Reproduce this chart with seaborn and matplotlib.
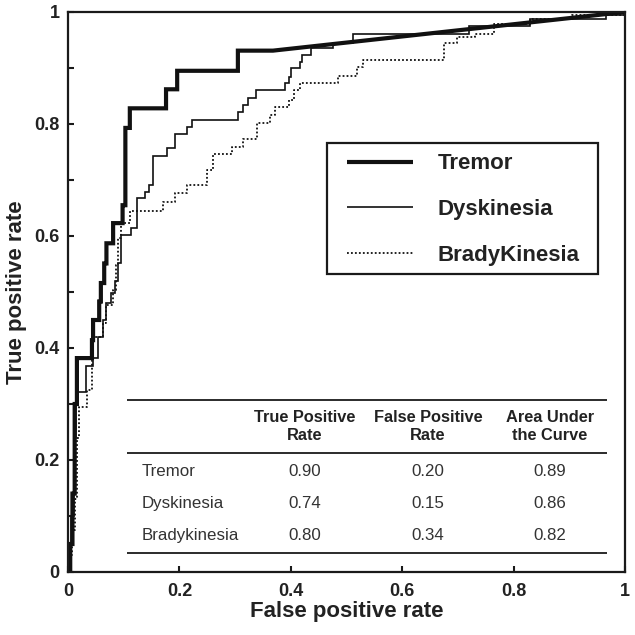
import numpy as np
import pandas as pd
import matplotlib
matplotlib.use("Agg")
import matplotlib.pyplot as plt
import seaborn as sns
from matplotlib.ticker import MultipleLocator, FuncFormatter
from matplotlib.patches import Rectangle

# ---------------- data ----------------
# step points: at each fpr the curve rises vertically to the given tpr
tremor_fpr = [0.0, 0.004, 0.008, 0.012, 0.016, 0.043, 0.045, 0.056, 0.059, 0.065,
              0.069, 0.081, 0.098, 0.103, 0.111, 0.176, 0.196, 0.305, 0.368, 1.0]
tremor_tpr = [0.0, 0.05, 0.14, 0.30, 0.382, 0.414, 0.45, 0.483, 0.516, 0.551,
              0.587, 0.623, 0.655, 0.793, 0.828, 0.862, 0.895, 0.931, 0.931, 1.0]

dysk_fpr = [0.0, 0.006, 0.010, 0.014, 0.032, 0.045, 0.054, 0.063, 0.069, 0.078,
            0.084, 0.090, 0.096, 0.114, 0.124, 0.138, 0.146, 0.153, 0.177, 0.192,
            0.214, 0.223, 0.305, 0.314, 0.324, 0.337, 0.390, 0.397, 0.400, 0.417,
            0.421, 0.436, 0.476, 0.512, 0.720, 0.830, 0.965, 1.0]
dysk_tpr = [0.0, 0.10, 0.24, 0.322, 0.367, 0.382, 0.420, 0.450, 0.480, 0.498,
            0.520, 0.551, 0.602, 0.614, 0.667, 0.679, 0.691, 0.743, 0.757, 0.782,
            0.795, 0.808, 0.822, 0.834, 0.846, 0.861, 0.873, 0.884, 0.900, 0.911,
            0.923, 0.935, 0.945, 0.960, 0.975, 0.987, 0.995, 1.0]

brady_fpr = [0.0, 0.004, 0.008, 0.012, 0.016, 0.019, 0.034, 0.043, 0.045, 0.063,
             0.069, 0.081, 0.087, 0.090, 0.096, 0.111, 0.170, 0.192, 0.213, 0.249,
             0.261, 0.294, 0.315, 0.339, 0.363, 0.372, 0.396, 0.405, 0.417, 0.485,
             0.518, 0.530, 0.675, 0.698, 0.731, 0.764, 0.830, 0.905, 1.0]
brady_tpr = [0.0, 0.03, 0.075, 0.13, 0.239, 0.295, 0.325, 0.379, 0.420, 0.444,
             0.477, 0.504, 0.548, 0.596, 0.623, 0.644, 0.661, 0.676, 0.691, 0.718,
             0.746, 0.759, 0.774, 0.802, 0.816, 0.831, 0.843, 0.861, 0.873, 0.886,
             0.902, 0.914, 0.944, 0.955, 0.960, 0.979, 0.987, 0.995, 1.0]

legend_labels = ["Tremor", "Dyskinesia", "BradyKinesia"]

table_rows = ["Tremor", "Dyskinesia", "Bradykinesia"]
table_headers = ["True Positive\nRate", "False Positive\nRate", "Area Under\nthe Curve"]
table_tpr = [0.90, 0.74, 0.80]
table_fpr = [0.20, 0.15, 0.34]
table_auc = [0.89, 0.86, 0.82]

x_ticks = [0, 0.2, 0.4, 0.6, 0.8, 1.0]
y_ticks = [0, 0.2, 0.4, 0.6, 0.8, 1.0]


def staircase(fpr, tpr, linear_tail=False):
    xs, ys = [fpr[0]], [tpr[0]]
    last = len(fpr) - 1 if linear_tail else len(fpr)
    for i in range(1, last):
        xs += [fpr[i], fpr[i]]
        ys += [tpr[i - 1], tpr[i]]
    if linear_tail:
        xs.append(fpr[-1])
        ys.append(tpr[-1])
    return xs, ys


# ---------------- style ----------------
sns.set_theme(style="white")
plt.rcParams["font.family"] = ["Liberation Sans", "DejaVu Sans"]
plt.rcParams["axes.edgecolor"] = "#1a1a1a"

fig = plt.figure(figsize=(6.35, 6.35), dpi=100)
ax = fig.add_axes([68 / 635, 1 - 572 / 635, 557 / 635, 560 / 635])

curves = [
    (staircase(brady_fpr, brady_tpr), legend_labels[2], dict(lw=1.3, ls=(0, (1, 1.2)))),
    (staircase(dysk_fpr, dysk_tpr), legend_labels[1], dict(lw=1.2, ls="-")),
    (staircase(tremor_fpr, tremor_tpr, linear_tail=True), legend_labels[0], dict(lw=3.0, ls="-")),
]
handles = {}
for (xs, ys), lab, st in curves:
    df = pd.DataFrame({"fpr": xs, "tpr": ys})
    sns.lineplot(data=df, x="fpr", y="tpr", sort=False, estimator=None, ax=ax,
                 color="#111111", linewidth=st["lw"], linestyle=st["ls"], label=lab,
                 solid_joinstyle="miter", solid_capstyle="butt")
    handles[lab] = ax.lines[-1]

ax.set_xlim(0, 1)
ax.set_ylim(0, 1)
ax.set_xticks(x_ticks)
ax.set_yticks(y_ticks)
ax.yaxis.set_minor_locator(MultipleLocator(0.1))
fmt = FuncFormatter(lambda v, p: "0" if v == 0 else ("1" if v == 1 else f"{v:.1f}"))
ax.xaxis.set_major_formatter(fmt)
ax.yaxis.set_major_formatter(fmt)
ax.tick_params(axis="both", which="both", direction="in", length=4.5, width=1.5,
               color="#1a1a1a", labelsize=13, labelcolor="#222222")
ax.tick_params(axis="x", which="both", top=False, bottom=True, pad=8)
ax.tick_params(axis="y", which="both", left=True, right=False, pad=6)
for lab in ax.get_xticklabels() + ax.get_yticklabels():
    lab.set_fontweight("bold")
for sp in ax.spines.values():
    sp.set_linewidth(1.6)
    sp.set_visible(True)

ax.set_xlabel("False positive rate", fontsize=16, fontweight="bold", color="#222222", labelpad=1)
ax.set_ylabel("True positive rate", fontsize=16, fontweight="bold", color="#222222", labelpad=5)

# legend
ax.legend(handles=[handles[l] for l in legend_labels], labels=legend_labels,
          loc="center left", bbox_to_anchor=(0.501, 0.647), frameon=False,
          borderpad=0, borderaxespad=0, handlelength=2.97, handletextpad=1.12,
          labelspacing=1.12, prop=dict(size=16, weight="bold"), labelcolor="#222222")
ax.add_patch(Rectangle((0.465, 0.532), 0.486, 0.234, transform=ax.transAxes,
                       fill=False, lw=1.6, ec="#1a1a1a", zorder=5))

# table
tx0, tx1 = 0.106, 0.968
for yl in (0.307, 0.2125, 0.034):
    ax.plot([tx0, tx1], [yl, yl], transform=ax.transAxes, color="#1a1a1a", lw=1.3,
            solid_capstyle="butt")
col_x = [0.4255, 0.646, 0.865]
for cx, h in zip(col_x, table_headers):
    ax.text(cx, 0.260, h, transform=ax.transAxes, ha="center", va="center",
            fontsize=11.8, fontweight="bold", color="#222222", linespacing=1.25)
row_y = [0.1786, 0.123, 0.066]
for ry, name, a, b, c in zip(row_y, table_rows, table_tpr, table_fpr, table_auc):
    ax.text(0.133, ry, name, transform=ax.transAxes, ha="left", va="center",
            fontsize=12.2, color="#333333")
    for cx, v in zip(col_x, (a, b, c)):
        ax.text(cx, ry, f"{v:.2f}", transform=ax.transAxes, ha="center", va="center",
                fontsize=12.2, color="#333333")

fig.savefig("out.png", dpi=100)
